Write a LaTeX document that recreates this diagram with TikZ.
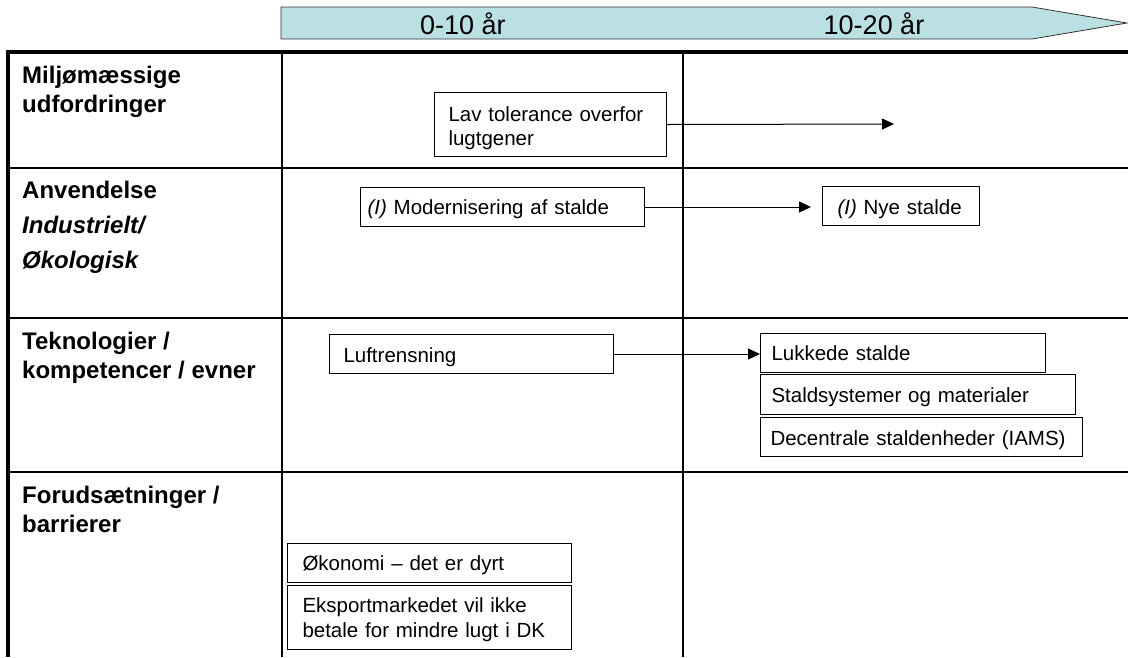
\documentclass[tikz,border=0pt]{standalone}
\usepackage{fontspec}
\setmainfont{Liberation Sans}
\usetikzlibrary{arrows.meta}
\definecolor{bannerfill}{RGB}{187,224,228}
\definecolor{bannerline}{RGB}{50,50,50}
\begin{document}
\begin{tikzpicture}[x=1pt,y=-1pt,
  bx/.style={draw=black, line width=1pt, anchor=north west, inner ysep=0pt, align=left, font=\fontsize{20.5}{24.5}\selectfont},
  lbl/.style={anchor=base west, inner sep=0pt, font=\fontsize{24}{28}\selectfont\bfseries},
  hdr/.style={inner sep=0pt, font=\fontsize{27}{30}\selectfont},
  conn/.style={line width=1pt, -{Triangle[length=12pt,width=11pt]}},
  gridline/.style={line width=2pt},
  heavy/.style={line width=4pt}]
\useasboundingbox (0,0) rectangle (1128,657);
% banner
\draw[fill=bannerfill, draw=bannerline, line width=0.8pt] (281,7) -- (1032,7) -- (1127,23) -- (1032,39) -- (281,39) -- cycle;
\node[hdr] (h0) at (463,24) {0-10 år};
\node[hdr] (h1) at (874,24) {10-20 år};
% table
\draw[heavy] (8,657) -- (8,52) -- (1128,52);
\draw[gridline] (8,168) -- (1128,168);
\draw[gridline] (8,318) -- (1128,318);
\draw[gridline] (8,472) -- (1128,472);
\draw[gridline] (282,52) -- (282,657);
\draw[gridline] (683,52) -- (683,657);
% row labels
\node[lbl] (l1a) at (22,83) {Miljømæssige};
\node[lbl] (l1b) at (22,112) {udfordringer};
\node[lbl] (l2a) at (22,198) {Anvendelse};
\node[lbl] (l2b) at (22,233) {\itshape Industrielt/};
\node[lbl] (l2c) at (22,268) {\itshape Økologisk};
\node[lbl] (l3a) at (22,349) {Teknologier /};
\node[lbl] (l3b) at (22,378) {kompetencer / evner};
\node[lbl] (l4a) at (22,503) {Forudsætninger /};
\node[lbl] (l4b) at (22,532) {barrierer};
% boxes
\node[bx, inner xsep=14pt, text width=204pt, text height=28.5pt, text depth=35.5pt] (lav) at (434,92) {Lav tolerance overfor\\lugtgener};
\node[bx, inner xsep=7pt, text width=270pt, text height=27pt, text depth=12pt] (mod) at (360,187) {\mbox{\textit{(I)} Modernisering af stalde}};
\node[bx, inner xsep=15pt, text width=127pt, text height=28pt, text depth=11pt] (nye) at (822,186) {\mbox{\textit{(I)} Nye stalde}};
\node[bx, inner xsep=14pt, text width=256pt, text height=28pt, text depth=11pt] (luft) at (329,334) {\mbox{Luftrensning}};
\node[bx, inner xsep=11pt, text width=263pt, text height=27pt, text depth=12pt] (lukk) at (760,333) {\mbox{Lukkede stalde}};
\node[bx, inner xsep=11pt, text width=293pt, text height=28pt, text depth=12pt] (stald) at (760,374) {\mbox{Staldsystemer og materialer}};
\node[bx, inner xsep=10pt, text width=302pt, text height=28pt, text depth=11pt] (dec) at (760,417) {\mbox{Decentrale staldenheder (IAMS)}};
\node[bx, inner xsep=15pt, text width=254pt, text height=27pt, text depth=12pt] (okon) at (287,543) {\mbox{Økonomi – det er dyrt}};
\node[bx, inner xsep=15pt, text width=254pt, text height=27pt, text depth=37pt] (eksp) at (287,585) {Eksportmarkedet vil ikke\\betale for mindre lugt i DK};
% connectors
\coordinate (lavend) at (894,124);
\draw[conn] (lav.east) -- (lavend);
\draw[conn, shorten >=11pt] (mod.east) -- (mod.east -| nye.west);
\draw[conn] (luft.east) -- (luft.east -| lukk.west);
\end{tikzpicture}
\end{document}
